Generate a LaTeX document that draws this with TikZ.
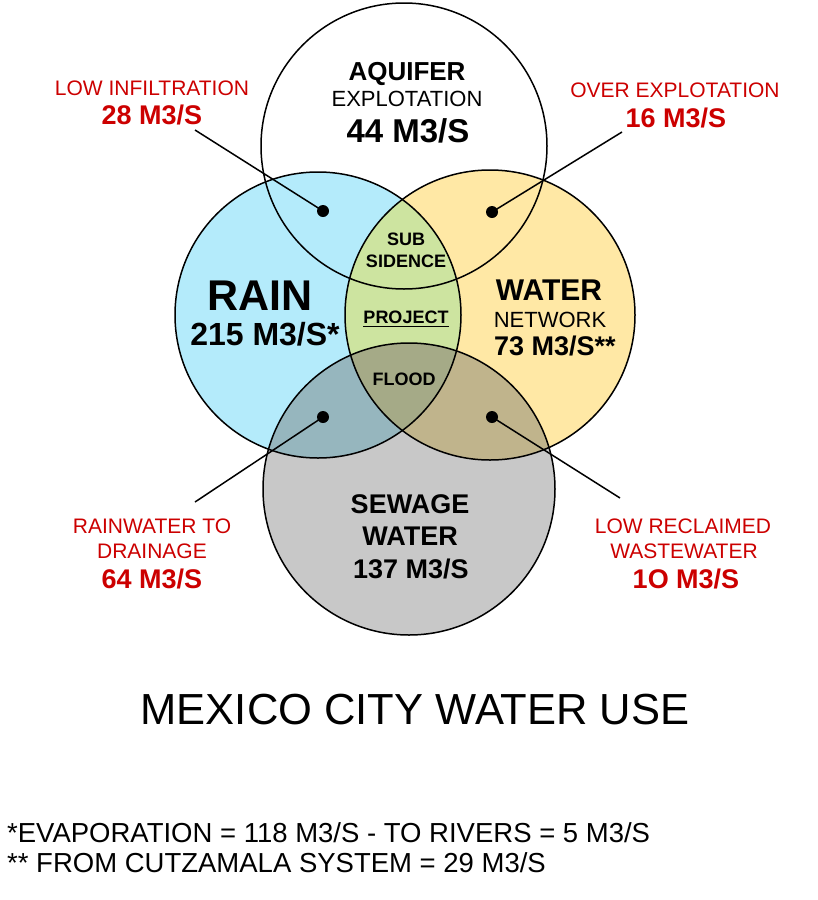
\documentclass[tikz,border=0pt]{standalone}
\usepackage{fontspec}
\setmainfont{Liberation Sans}
\usetikzlibrary{positioning}
\definecolor{rainblue}{RGB}{180,235,251}
\definecolor{netyellow}{RGB}{255,232,165}
\definecolor{sewgray}{RGB}{200,200,200}
\definecolor{rainnet}{RGB}{205,228,160}
\definecolor{rainsew}{RGB}{150,182,190}
\definecolor{netsew}{RGB}{192,180,140}
\definecolor{allthree}{RGB}{165,170,135}
\definecolor{lossred}{RGB}{204,0,0}
\tikzset{
  ring/.style={draw=black, line width=1.5pt},
  pin/.style={black, line width=1.5pt},
  dot/.style={circle, fill=black, inner sep=0pt, minimum size=12pt},
  loss/.style={text=lossred, font=\fontsize{21}{25}\selectfont, inner sep=0pt, anchor=base},
  lossval/.style={text=lossred, font=\fontsize{27}{30}\selectfont\bfseries, inner sep=0pt, anchor=base},
  setname/.style={font=\fontsize{27}{30}\selectfont\bfseries, inner sep=0pt, anchor=base},
  setsub/.style={font=\fontsize{22}{26}\selectfont, inner sep=0pt, anchor=base},
  zone/.style={font=\fontsize{18}{22}\selectfont\bfseries, inner sep=0pt, anchor=base},
  note/.style={font=\fontsize{27.5}{32}\selectfont, inner sep=0pt, anchor=base west},
}

\begin{document}
\begin{tikzpicture}[x=1pt, y=-1pt]
  \useasboundingbox[fill=white] (0,0) rectangle (818,900);

  % circle fills
  \fill[white] (404,146) circle (143pt);
  \fill[rainblue] (318,315) circle (143pt);
  \fill[netyellow] (490,315) circle (145pt);
  \fill[sewgray] (409,489) circle (146pt);
  \begin{scope}
    \clip (490,315) circle (145pt);
    \fill[netsew] (409,489) circle (146pt);
  \end{scope}
  \begin{scope}
    \clip (318,315) circle (143pt);
    \fill[rainnet] (490,315) circle (145pt);
    \fill[rainsew] (409,489) circle (146pt);
    \clip (490,315) circle (145pt);
    \fill[allthree] (409,489) circle (146pt);
  \end{scope}

  % circle outlines
  \draw[ring] (404,146) circle (143pt);
  \draw[ring] (318,315) circle (143pt);
  \draw[ring] (490,315) circle (145pt);
  \draw[ring] (409,489) circle (146pt);

  % set labels
  \node[setname, font=\fontsize{26}{30}\selectfont\bfseries] (aq) at (407,80) {AQUIFER};
  \node[setsub] (aqsub) at (407,106) {EXPLOTATION};
  \node[setname, font=\fontsize{33}{36}\selectfont\bfseries] (aqval) at (408,142) {44 M3/S};

  \node[setname, font=\fontsize{43}{46}\selectfont\bfseries] (rain) at (260,310) {RAIN};
  \node[setname, font=\fontsize{32}{36}\selectfont\bfseries] (rainval) at (265,345) {215 M3/S*};

  \node[setname, font=\fontsize{30}{34}\selectfont\bfseries] (net) at (549,300) {WATER};
  \node[setsub] (netsub) at (550,327) {NETWORK};
  \node[setname] (netval) at (555,355) {73 M3/S**};

  \node[setname] (sew) at (410,513) {SEWAGE};
  \node[setname] (sewsub) at (410,545) {WATER};
  \node[setname] (sewval) at (411,578) {137 M3/S};

  % overlap labels
  \node[zone] (sub) at (406,245) {SUB};
  \node[zone] (sid) at (406,267) {SIDENCE};
  \node[zone] (proj) at (406,323) {PROJECT};
  \draw[line width=1.8pt] ([yshift=-3.5pt]proj.base west) -- ([yshift=-3.5pt]proj.base east);
  \node[zone] (flood) at (404,385) {FLOOD};

  % loss labels
  \node[loss] (infil) at (152,95) {LOW INFILTRATION};
  \node[lossval] (infilv) at (152,124) {28 M3/S};
  \node[loss] (over) at (675,97) {OVER EXPLOTATION};
  \node[lossval] (overv) at (676,127) {16 M3/S};
  \node[loss] (drain) at (152,533) {RAINWATER TO};
  \node[loss] (drain2) at (152,558) {DRAINAGE};
  \node[lossval] (drainv) at (152,588) {64 M3/S};
  \node[loss] (recl) at (683,533) {LOW RECLAIMED};
  \node[loss] (recl2) at (684,558) {WASTEWATER};
  \node[lossval] (reclv) at (686,588) {1O M3/S};

  % dots and pointers
  \node[dot] (d1) at (323,211) {};
  \node[dot] (d2) at (492,212) {};
  \node[dot] (d3) at (323,417) {};
  \node[dot] (d4) at (492,417) {};
  \coordinate (p1) at (195,130);
  \coordinate (p2) at (622,132);
  \coordinate (p3) at (195,502);
  \coordinate (p4) at (620,498);
  \draw[pin] (p1) -- (d1.center);
  \draw[pin] (p2) -- (d2.center);
  \draw[pin] (p3) -- (d3.center);
  \draw[pin] (p4) -- (d4.center);

  % title and notes
  \node[font=\fontsize{43.5}{48}\selectfont, inner sep=0pt, anchor=base] (title) at (415,724) {MEXICO CITY WATER USE};
  \node[note] (fn1) at (7,842) {*EVAPORATION = 118 M3/S - TO RIVERS = 5 M3/S};
  \node[note] (fn2) at (7,872) {** FROM CUTZAMALA SYSTEM = 29 M3/S};
\end{tikzpicture}
\end{document}
